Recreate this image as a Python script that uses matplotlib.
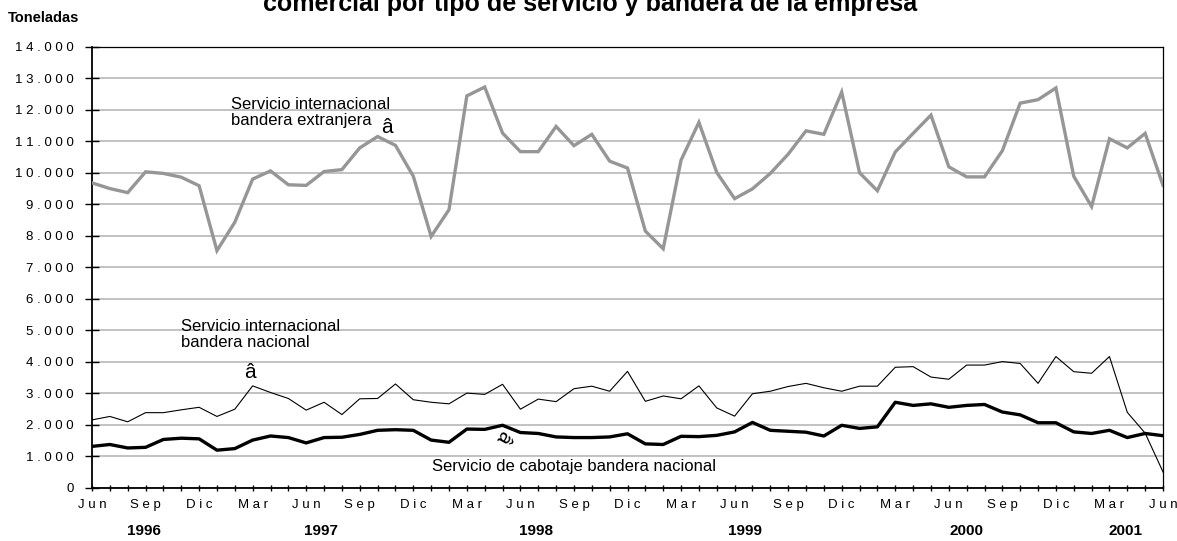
import matplotlib
matplotlib.use("Agg")
import matplotlib.pyplot as plt
from matplotlib.ticker import FixedLocator, FuncFormatter

plt.rcParams["font.family"] = ["Liberation Sans", "DejaVu Sans"]

# monthly values, Jun 1996 .. Jun 2001 (toneladas)
months = ["Jun", "Jul", "Ago", "Sep", "Oct", "Nov", "Dic", "Ene", "Feb", "Mar", "Abr", "May"]
years = ["1996", "1997", "1998", "1999", "2000", "2001"]

intl_extranjera = [
    9680, 9500, 9370, 10030, 9980, 9860, 9590, 7530, 8430, 9800, 10060, 9620,
    9600, 10040, 10100, 10790, 11150, 10870, 9890, 7980, 8830, 12440, 12720, 11260,
    10670, 10670, 11470, 10860, 11220, 10370, 10150, 8150, 7590, 10400, 11600, 10010,
    9180, 9490, 9980, 10590, 11330, 11220, 12560, 10000, 9430, 10660, 11250, 11830,
    10190, 9870, 9870, 10700, 12210, 12320, 12690, 9890, 8930, 11080, 10790, 11250,
    9600,
]
intl_nacional = [
    2160, 2270, 2100, 2390, 2390, 2480, 2560, 2270, 2500, 3240, 3030, 2840,
    2470, 2720, 2330, 2830, 2840, 3300, 2800, 2720, 2670, 3010, 2970, 3290,
    2500, 2820, 2740, 3150, 3230, 3070, 3700, 2750, 2920, 2830, 3240, 2540,
    2280, 2990, 3070, 3220, 3320, 3180, 3070, 3230, 3230, 3830, 3850, 3520,
    3450, 3900, 3900, 4010, 3950, 3320, 4170, 3690, 3640, 4170, 2400, 1740,
    510,
]
cabotaje = [
    1320, 1380, 1270, 1290, 1540, 1580, 1560, 1200, 1250, 1520, 1650, 1600,
    1430, 1600, 1610, 1700, 1830, 1850, 1830, 1520, 1450, 1870, 1860, 1990,
    1760, 1730, 1620, 1600, 1600, 1620, 1720, 1400, 1380, 1640, 1630, 1670,
    1780, 2080, 1830, 1800, 1770, 1650, 1990, 1890, 1940, 2720, 2620, 2670,
    2560, 2620, 2650, 2410, 2320, 2070, 2070, 1780, 1730, 1830, 1600, 1730,
    1660,
]

n = len(cabotaje)
x = list(range(n))


def spaced(s):
    return " ".join(s)


fig = plt.figure(figsize=(11.77, 5.41), dpi=100)
ax = fig.add_axes([92 / 1177, 1 - 488 / 541, (1163 - 92) / 1177, (488 - 46.7) / 541])

ax.plot(x, intl_extranjera, color="#969696", lw=2.4, solid_joinstyle="miter", zorder=3)
ax.plot(x, intl_nacional, color="black", lw=0.8, zorder=3)
ax.plot(x, cabotaje, color="black", lw=2.4, zorder=4)

ax.set_xlim(0, n - 1)
ax.set_ylim(0, 14000)

yt = list(range(0, 14001, 1000))
ax.yaxis.set_major_locator(FixedLocator(yt))
ax.yaxis.set_major_formatter(FuncFormatter(
    lambda v, p: "0" if v == 0 else spaced(f"{int(v):,}".replace(",", "."))))
ax.grid(axis="y", color="#b2b2b2", lw=1.1, zorder=1)
ax.set_axisbelow(True)

ax.set_xticks(x)
ax.set_xticklabels([spaced(months[i % 12]) if i % 3 == 0 else "" for i in x])

ax.tick_params(axis="y", direction="inout", length=10, width=1, pad=8, labelsize=9.5)
ax.tick_params(axis="x", direction="inout", length=4.5, width=1, pad=6, labelsize=9.5)

for side in ["left", "bottom"]:
    ax.spines[side].set_linewidth(1.3)
for side in ["top", "right"]:
    ax.spines[side].set_linewidth(0.9)

# year labels under the month ticks
year_pos = [2.9, 12.8, 24.9, 36.6, 49.0, 57.9]
for yr, xp in zip(years, year_pos):
    ax.text(xp, -1350, yr, ha="center", va="center", fontsize=11,
            fontweight="bold", clip_on=False)

# series labels
ax.text(7.8, 11517, "Servicio internacional\nbandera extranjera", fontsize=12,
        va="baseline", linespacing=1.05)
ax.text(16.55, 11450, "â", fontsize=15, ha="center", va="center")
ax.text(5.0, 4483, "Servicio internacional\nbandera nacional", fontsize=12,
        va="baseline", linespacing=1.05)
ax.text(8.85, 3680, "â", fontsize=15, ha="center", va="center")
ax.text(19.05, 540, "Servicio de cabotaje bandera nacional", fontsize=12, va="baseline")
ax.text(23.0, 1620, "â", fontsize=15, ha="center", va="center", rotation=-120)

fig.text(8 / 1177, 1 - 18 / 541, "Toneladas", fontsize=10.5, fontweight="bold",
         va="center")
fig.text(590 / 1177, 1 - 11 / 541,
         "comercial por tipo de servicio y bandera de la empresa",
         fontsize=18, fontweight="bold", ha="center", va="baseline")

fig.savefig("out.png", dpi=100)
